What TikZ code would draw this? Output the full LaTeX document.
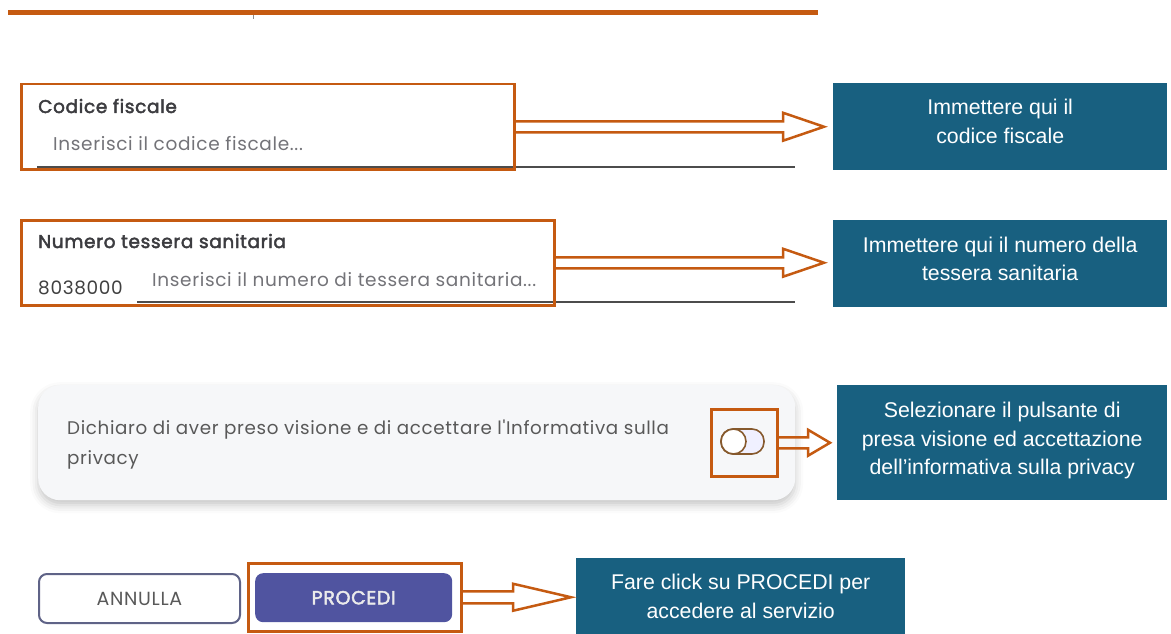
\documentclass[tikz,border=0pt]{standalone}
\usepackage{fontspec}
\setmainfont{Liberation Sans}
\newfontfamily\uifont[LetterSpace=3.5]{Poppins}
\newfontfamily\uifontmed[LetterSpace=3.5,FakeBold=2.5]{Poppins}
\usetikzlibrary{calc,shadows.blur}
\definecolor{hlorange}{RGB}{197,90,17}
\definecolor{tipteal}{RGB}{24,96,128}
\definecolor{lblgray}{RGB}{60,60,64}
\definecolor{phgray}{RGB}{115,115,120}
\definecolor{btnblue}{RGB}{80,84,160}
\definecolor{btnedge}{RGB}{95,99,135}
\definecolor{cardbg}{RGB}{246,247,249}
% block arrow from a box to its tip: (shaft half:head length:head half:gap)
\def\blockarrow(#1)(#2)(#3:#4:#5:#6){\draw[hlline] let \p1=(#1.east), \p2=(#2.west) in
	(\x1,{\y1+#3pt}) -- ({\x2-#6pt-#4pt},{\y1+#3pt}) -- ({\x2-#6pt-#4pt},{\y1+#5pt}) -- ({\x2-#6pt},\y1)
	-- ({\x2-#6pt-#4pt},{\y1-#5pt}) -- ({\x2-#6pt-#4pt},{\y1-#3pt}) -- (\x1,{\y1-#3pt});}
\tikzset{
	hlbox/.style={draw=hlorange, line width=2.5pt, inner sep=0pt, anchor=north west},
	hlline/.style={draw=hlorange, line width=2.5pt, line join=miter},
	tipbox/.style={fill=tipteal, text=white, align=center, inner sep=0pt, anchor=north west, font=\fontsize{21.3}{28.5}\selectfont,
		execute at end node={\rule[-#1pt]{0pt}{#1pt}}},
	tipbox/.default=0,
	fieldlbl/.style={anchor=base west, inner sep=0pt, text=lblgray, font=\uifontmed\fontsize{18.5}{22}\selectfont},
	fieldph/.style={anchor=base west, inner sep=0pt, text=phgray, font=\uifont\fontsize{18.5}{22}\selectfont},
	uline/.style={draw=black!70, line width=1.2pt}
}

\begin{document}
\begin{tikzpicture}[x=1pt, y=-1pt]
		%%%%% START %%%%%
		\useasboundingbox (0,0) rectangle (1171,634);
		
		\fill[hlorange] (8,10) rectangle (818,15);
		\draw[black!45, line width=1pt] (253,15) -- (253,19);
		
		%%%%% codice fiscale
		\node[fieldlbl] (cflbl) at (38,113) {Codice fiscale};
		\node[fieldph] (cfph) at (53,150.5) {Inserisci il codice fiscale...};
		\draw[uline] (37,167) -- (795,167);
		\node[hlbox, minimum width=493, minimum height=85] (hlcf) at (20,83) {};
		\node[tipbox=11, minimum width=334, minimum height=87] (tipcf) at (833,83) {Immettere qui il\\codice fiscale};
		\blockarrow(hlcf)(tipcf)(5.5:41:14:9);
		
		%%%%% tessera sanitaria
		\node[fieldlbl] (tslbl) at (38,248) {Numero tessera sanitaria};
		\node[fieldph, text=black!75] (tspre) at (38,294.5) {8038000};
		\node[fieldph] (tsph) at (152,286.5) {Inserisci il numero di tessera sanitaria...};
		\draw[uline] (137,302) -- (795,302);
		\node[hlbox, minimum width=533, minimum height=85] (hlts) at (20,219) {};
		\node[tipbox=10, minimum width=334, minimum height=87] (tipts) at (833,220) {Immettere qui il numero della\\tessera sanitaria};
		\blockarrow(hlts)(tipts)(5.5:41:14:9);
		
		%%%%% privacy
		\node[anchor=north west, fill=cardbg, rounded corners=22pt, minimum width=757, minimum height=115, inner sep=0pt,
			blur shadow={shadow xshift=0pt, shadow yshift=-5pt, shadow blur radius=8pt, shadow opacity=22}] (card) at (38,385) {};
		\node[fieldph, text=black!65, font=\uifont\fontsize{18.3}{30}\selectfont, align=left, anchor=north west] (cardtxt) at (67,420)
			{Dichiaro di aver preso visione e di accettare l'Informativa sulla\\privacy};
		\draw[draw=brown!70!black, fill=blue!6!white, line width=1.6pt, rounded corners=12pt] (721,429) rectangle (764,454);
		\draw[draw=brown!70!black, fill=white, line width=1.6pt] (733.5,441.5) circle (12.5);
		\node[hlbox, minimum width=66, minimum height=67] (hlpv) at (710,408) {};
		\node[tipbox=8, minimum width=330, minimum height=115] (tippv) at (837,385)
			{Selezionare il pulsante di\\presa visione ed accettazione\\dell’informativa sulla privacy};
		\blockarrow(hlpv)(tippv)(5.5:22:13:7);
		
		%%%%% buttons
		\node[anchor=north west, draw=btnedge, line width=2pt, rounded corners=8pt, minimum width=201, minimum height=49,
			text=black!65, font=\uifont\fontsize{19}{22}\selectfont] (annulla) at (38,573) {ANNULLA};
		\node[anchor=north west, fill=btnblue, rounded corners=8pt, minimum width=197, minimum height=49,
			text=white!92!black, font=\uifontmed\fontsize{19}{22}\selectfont] (procedi) at (255,573) {PROCEDI};
		\node[hlbox, minimum width=213, minimum height=68] (hlpr) at (247,562) {};
		\node[tipbox, minimum width=329, minimum height=76] (tippr) at (576,558) {Fare click su PROCEDI per\\accedere al servizio};
		\blockarrow(hlpr)(tippr)(6:58:13.5:5);
		
		%%%%% END %%%%%
\end{tikzpicture}
\end{document}
